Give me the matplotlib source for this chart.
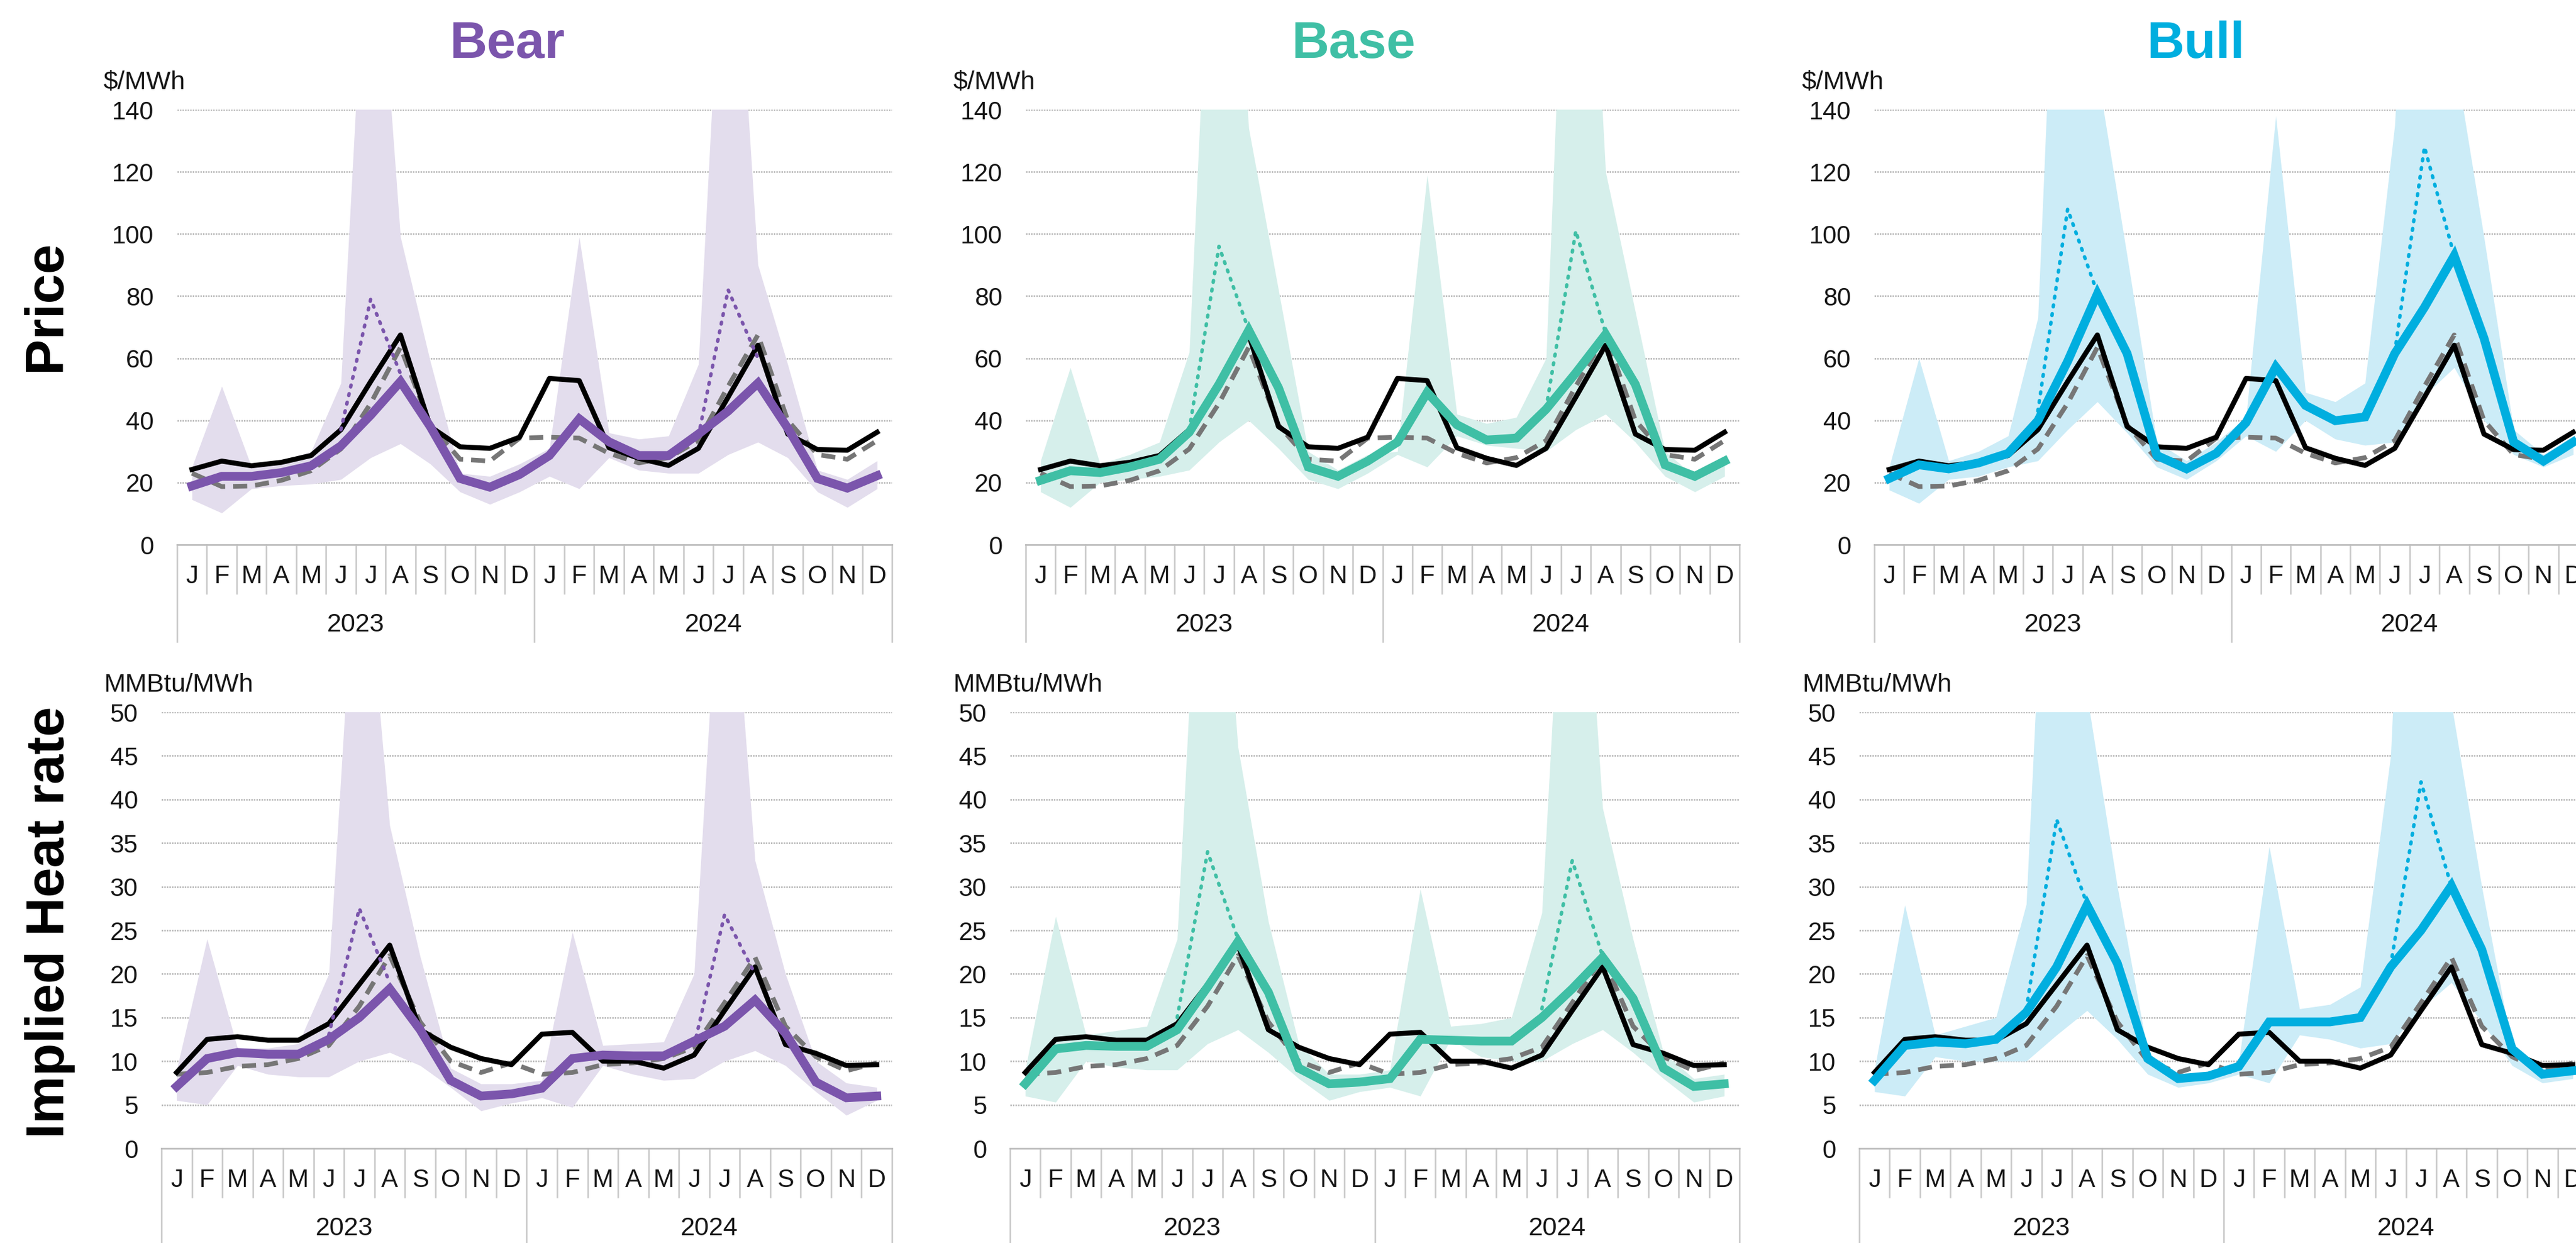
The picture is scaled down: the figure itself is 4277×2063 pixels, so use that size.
import numpy as np
import matplotlib
matplotlib.use("Agg")
import matplotlib.pyplot as plt
from matplotlib.lines import Line2D

plt.rcParams['font.family'] = ['Liberation Sans', 'DejaVu Sans']

# ---------------------------------------------------------------- data
months = list("JFMAMJJASOND") * 2
years = ["2023", "2024"]
scenarios = ["Bear", "Base", "Bull"]
nan = np.nan

# Common reference lines (same in every scenario)
price_actual = [24.2, 26.9, 25.4, 26.5, 28.7, 37.0, 52.5, 67.5, 38.0, 31.5, 31.0, 34.6,
                53.5, 52.8, 31.2, 27.8, 25.5, 31.0, 47.5, 64.2, 35.6, 30.6, 30.4, 36.2]
price_prior = [23.0, 18.7, 18.9, 20.7, 23.8, 30.8, 45.5, 63.5, 38.5, 27.5, 26.9, 34.3,
               34.6, 34.3, 29.4, 26.3, 28.0, 33.5, 51.0, 67.5, 40.0, 29.0, 27.5, 33.5]
hr_actual = [8.7, 12.5, 12.8, 12.4, 12.4, 14.3, 18.8, 23.3, 13.6, 11.6, 10.3, 9.6,
             13.1, 13.3, 10.0, 10.0, 9.2, 10.7, 15.8, 20.8, 11.9, 10.9, 9.5, 9.6]
hr_prior = [8.5, 8.7, 9.4, 9.6, 10.3, 11.8, 16.3, 22.1, 14.5, 10.0, 8.7, 9.8,
            8.5, 8.7, 9.6, 9.8, 10.3, 11.6, 16.7, 21.9, 14.0, 10.5, 8.9, 9.8]

# Price ($/MWh) by scenario: central path, band low/high, summer peak path
bear_price = [18.9, 22.0, 22.0, 23.2, 25.4, 31.8, 41.7, 52.5, 38.0, 21.3, 18.5, 22.6,
              28.7, 40.5, 33.1, 28.7, 28.7, 35.6, 43.0, 52.0, 37.5, 21.3, 18.2, 22.2]
bear_price_lo = [14.5, 10.2, 18, 19, 19.5, 21, 28, 32.5, 26, 17, 13, 17,
                 22, 18, 28, 24, 23, 23, 29, 33, 28, 17, 12, 18]
bear_price_hi = [25, 51, 25, 27, 30, 52, 230, 99, 59, 23, 22, 26,
                 31, 99, 36, 34, 35, 58, 240, 90, 58, 24, 21, 27]
bear_price_peak = [nan, nan, nan, nan, nan, 37, 79, 55, nan, nan, nan, nan,
                   nan, nan, nan, nan, nan, 35, 82, 60, nan, nan, nan, nan]

base_price = [20.7, 23.8, 23.2, 25.0, 27.5, 36.2, 51.6, 69.0, 50.5, 25.0, 22.0, 26.9,
              33.0, 49.0, 38.6, 33.7, 34.3, 43.6, 55.3, 67.7, 51.6, 25.7, 22.0, 26.9]
base_price_lo = [17, 12, 20, 21, 22, 24, 33, 40, 31, 21, 18, 23,
                 29, 25, 35, 32, 31, 30, 37, 42, 33, 22, 17, 22]
base_price_hi = [27, 57, 26, 29, 33, 62, 270, 134, 82, 30, 24, 29,
                 30, 119, 42, 39, 41, 60, 300, 120, 75, 30, 22, 28]
base_price_peak = [nan, nan, nan, nan, nan, 37, 96, 69, nan, nan, nan, nan,
                   nan, nan, nan, nan, nan, 44, 101, 68, nan, nan, nan, nan]

bull_price = [21.3, 25.7, 24.4, 26.3, 29.4, 39.9, 59.0, 80.7, 61.5, 28.7, 24.4, 29.4,
              39.3, 57.2, 44.8, 39.9, 41.1, 61.5, 76.4, 93.0, 66.5, 33.0, 26.9, 33.0]
bull_price_lo = [17.6, 13.3, 21, 22, 25, 27, 37, 46, 36, 25, 21, 27,
                 35, 30, 40, 34, 32, 33, 48, 57, 40, 29, 25, 29]
bull_price_hi = [25, 60, 27, 30, 35, 73, 300, 152, 93, 33, 27, 33,
                 41, 138, 49, 46, 52, 135, 320, 158, 99, 37, 29, 35]
bull_price_peak = [nan, nan, nan, nan, nan, 43, 108, 81, nan, nan, nan, nan,
                   nan, nan, nan, nan, nan, 62, 128, 93, nan, nan, nan, nan]

# Implied heat rate (MMBtu/MWh) by scenario
bear_hr = [7.1, 10.3, 11.0, 10.8, 10.8, 12.5, 15.0, 18.3, 13.6, 7.8, 6.0, 6.25,
           6.9, 10.3, 10.7, 10.6, 10.6, 12.3, 14.0, 17.0, 13.2, 7.6, 5.8, 6.0]
bear_hr_lo = [5.5, 5.0, 9.5, 8.5, 8.2, 8.2, 10, 11, 9.5, 7.0, 4.3, 5.2,
              5.8, 4.7, 9.5, 8.5, 7.8, 8.0, 10, 11.2, 9.5, 6.5, 3.8, 5.5]
bear_hr_hi = [9, 24, 11.5, 11.5, 12, 20, 77, 37, 22, 9.2, 7.4, 7.4,
              7.8, 24.8, 11.8, 12, 12.2, 20, 79, 33, 20, 10, 7.5, 7]
bear_hr_peak = [nan, nan, nan, nan, nan, 13, 27.5, 19, nan, nan, nan, nan,
                nan, nan, nan, nan, nan, 11.8, 26.8, 20, nan, nan, nan, nan]

base_hr = [7.4, 11.4, 11.8, 11.7, 11.7, 13.6, 18.5, 23.7, 17.9, 9.2, 7.4, 7.6,
           8.0, 12.5, 12.4, 12.3, 12.3, 15.0, 18.3, 21.9, 17.2, 9.2, 7.1, 7.4]
base_hr_lo = [6, 5.3, 10, 9.3, 9, 9, 12, 13.6, 11, 8, 5.5, 6.5,
              7, 6, 12.5, 10.5, 10, 10, 12, 13.6, 11, 8, 5.3, 6]
base_hr_hi = [9, 26.6, 13, 13.5, 14, 24, 92, 46, 26, 12, 8.5, 8.5,
              9, 29.7, 14, 14.3, 15, 27, 91, 39, 24, 11, 8, 8.5]
base_hr_peak = [nan, nan, nan, nan, nan, 15, 34, 24, nan, nan, nan, nan,
                nan, nan, nan, nan, nan, 16, 33, 22, nan, nan, nan, nan]

bull_hr = [7.8, 11.8, 12.2, 12.0, 12.5, 15.6, 20.8, 27.9, 21.2, 10.3, 8.0, 8.3,
           9.4, 14.5, 14.5, 14.5, 15.0, 20.8, 25.0, 30.1, 22.8, 11.4, 8.5, 8.9]
bull_hr_lo = [6.5, 6, 10.5, 10, 10, 10, 13, 15.8, 12.5, 8.5, 7, 7.5,
              8.5, 7.5, 13, 12.5, 11.5, 12, 16, 19, 14.5, 9.5, 7.5, 8]
bull_hr_hi = [9, 27.9, 13, 14, 15, 28, 101, 52, 30, 11, 8, 8.5,
              10, 34.6, 16, 16.5, 18.5, 45, 120, 51, 30, 11.5, 8, 8.5]
bull_hr_peak = [nan, nan, nan, nan, nan, 16, 37.7, 28, nan, nan, nan, nan,
                nan, nan, nan, nan, nan, 21, 42, 30, nan, nan, nan, nan]

price_ticks = [0, 20, 40, 60, 80, 100, 120, 140]
hr_ticks = [0, 5, 10, 15, 20, 25, 30, 35, 40, 45, 50]

# ---------------------------------------------------------------- style
colors = {"Bear": "#7B55AC", "Base": "#3FBFA5", "Bull": "#00AEDF"}
band_colors = {"Bear": "#E3DDED", "Base": "#D6EFEB", "Bull": "#CCECF7"}
TEXT = "#161616"

W, H = 4277, 2063
fig = plt.figure(figsize=(W / 100, H / 100), dpi=100)


def px_axes(left, top, right, bottom):
    return fig.add_axes([left / W, 1 - bottom / H, (right - left) / W, (bottom - top) / H])


def draw_panel(ax, h_px, scen, lo, hi, peak, actual, prior, ticks, name):
    x = np.arange(24)
    ax.set_xlim(-0.5, 23.5)
    ax.set_ylim(ticks[0], ticks[-1])
    for v in ticks[1:]:
        ax.axhline(v, color="#B5B5B5", lw=1.8, ls=(0, (1.0, 0.7)), zorder=0)
    ax.fill_between(x, lo, hi, color=band_colors[name], lw=0, zorder=1)
    ax.plot(x, prior, color="#767676", lw=5.6, dashes=(3.0, 1.7), zorder=2)
    ax.plot(x, actual, color="black", lw=6.0, zorder=3)
    ax.plot(x, peak, color=colors[name], lw=4.2, ls=(0, (0.5, 2.0)),
            dash_capstyle="round", zorder=4)
    ax.plot(x, scen, color=colors[name], lw=10.5, zorder=5, solid_joinstyle="miter")

    ax.set_yticks(ticks)
    ax.set_yticklabels([str(t) for t in ticks], fontsize=30, color=TEXT)
    ax.tick_params(axis="y", length=0, pad=28)
    ax.set_xticks([])
    for s in ("top", "right", "left"):
        ax.spines[s].set_visible(False)
    ax.spines["bottom"].set_color("#BFBFBF")
    ax.spines["bottom"].set_linewidth(2)

    tr = ax.get_xaxis_transform()
    for k in range(25):
        depth = 161 if k in (0, 12, 24) else 81
        ax.add_line(Line2D([k - 0.5, k - 0.5], [0, -depth / h_px], transform=tr,
                           color="#C8C8C8", lw=1.8, clip_on=False))
    for i, m in enumerate(months):
        ax.text(i, -53 / h_px, m, transform=tr, ha="center", va="center",
                fontsize=30, color=TEXT)
    for j, yr in enumerate(years):
        ax.text(5.5 + 12 * j, -133 / h_px, yr, transform=tr, ha="center",
                va="center", fontsize=31, color=TEXT)


# panel geometry in pixels: (left of top row, left of bottom row, right)
cols = {"Bear": (294, 268, 1481), "Base": (1703, 1677, 2888), "Bull": (3112, 3087, 4297)}
unit_x = {"Bear": 172, "Base": 1583, "Bull": 2992}
title_x = {"Bear": 842, "Base": 2247, "Bull": 3646}

price_data = {
    "Bear": (bear_price, bear_price_lo, bear_price_hi, bear_price_peak),
    "Base": (base_price, base_price_lo, base_price_hi, base_price_peak),
    "Bull": (bull_price, bull_price_lo, bull_price_hi, bull_price_peak),
}
hr_data = {
    "Bear": (bear_hr, bear_hr_lo, bear_hr_hi, bear_hr_peak),
    "Base": (base_hr, base_hr_lo, base_hr_hi, base_hr_peak),
    "Bull": (bull_hr, bull_hr_lo, bull_hr_hi, bull_hr_peak),
}

for name in scenarios:
    l_top, l_bot, right = cols[name]
    ax1 = px_axes(l_top, 182, right, 904)
    draw_panel(ax1, 722, *price_data[name], price_actual, price_prior, price_ticks, name)
    ax2 = px_axes(l_bot, 1182, right, 1906)
    draw_panel(ax2, 724, *hr_data[name], hr_actual, hr_prior, hr_ticks, name)

    fig.text(unit_x[name] / W, 1 - 148 / H, r"\$/MWh", fontsize=31, color=TEXT,
             ha="left", va="baseline")
    fig.text(unit_x[name] / W, 1 - 1148 / H, "MMBtu/MWh", fontsize=31, color=TEXT,
             ha="left", va="baseline")
    fig.text(title_x[name] / W, 1 - 96 / H, name, fontsize=62, fontweight="bold",
             color=colors[name], ha="center", va="baseline")

fig.text(100 / W, 1 - 507 / H, "Price", rotation=90, rotation_mode="anchor",
         fontsize=64, fontweight="bold", color="black", ha="center", va="baseline")
fig.text(106 / W, 1 - 1531 / H, "Implied Heat rate", rotation=90, rotation_mode="anchor",
         fontsize=64, fontweight="bold", color="black", ha="center", va="baseline")

fig.savefig("out.png", dpi=100, facecolor="white")
